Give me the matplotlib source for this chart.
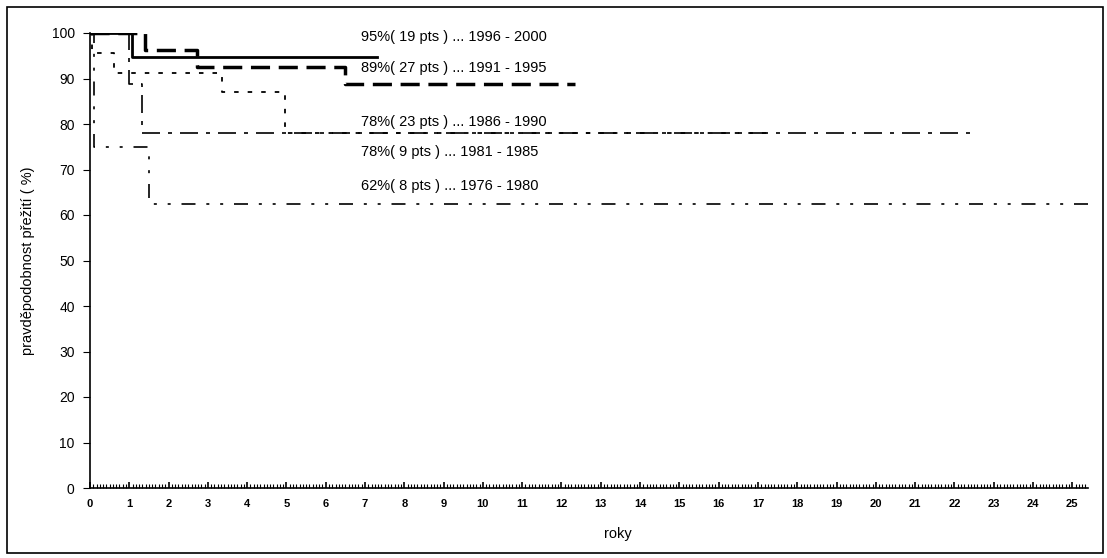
import matplotlib
matplotlib.use("Agg")
import matplotlib.pyplot as plt
import numpy as np
from matplotlib.patches import Rectangle
from matplotlib.ticker import MultipleLocator

plt.rcParams['font.family'] = ['Liberation Sans', 'DejaVu Sans']

# survival curves (years, % surviving), step after each time
t_9600 = [0, 1.07, 7.3]
s_9600 = [100, 94.7, 94.7]
t_9195 = [0, 1.39, 2.72, 6.5, 12.35]
s_9195 = [100, 96.3, 92.6, 88.9, 88.9]
t_8690 = [0, 0.05, 0.62, 3.35, 4.97, 17.4]
s_8690 = [100, 95.7, 91.3, 87.0, 78.0, 78.0]
t_8185 = [0, 1.0, 1.32, 22.4]
s_8185 = [100, 88.9, 78.0, 78.0]
t_7680 = [0, 0.1, 1.5, 25.4]
s_7680 = [100, 75.0, 62.5, 62.5]

labels = ["95%( 19 pts ) ... 1996 - 2000",
          "89%( 27 pts ) ... 1991 - 1995",
          "78%( 23 pts ) ... 1986 - 1990",
          "78%( 9 pts ) ... 1981 - 1985",
          "62%( 8 pts ) ... 1976 - 1980"]
label_y = [99.2, 92.3, 80.5, 73.9, 66.4]
label_x = 6.9

fig = plt.figure(figsize=(11.07, 5.58), dpi=100)
fig.patches.append(Rectangle((7 / 1107, 5 / 558), 1096 / 1107, 546 / 558,
                             transform=fig.transFigure, fill=False,
                             edgecolor='black', linewidth=1.2))
ax = fig.add_axes([90 / 1107, 70 / 558, 998 / 1107, 455 / 558])

ax.step(t_7680, s_7680, where='post', color='black', lw=1.2,
        linestyle=(0, (8.4, 6.5, 1.8, 6.5, 1.8, 6.5)))
ax.step(t_8185, s_8185, where='post', color='black', lw=1.2,
        linestyle=(0, (10.8, 4.8, 2.4, 4.8)))
ax.step(t_8690, s_8690, where='post', color='black', lw=1.3,
        linestyle=(0, (2.5, 5)))
ax.step(t_9195, s_9195, where='post', color='black', lw=2.5,
        linestyle=(0, (5.5, 2.5)))
ax.step(t_9600, s_9600, where='post', color='black', lw=2.0)

for txt, y in zip(labels, label_y):
    ax.text(label_x, y, txt, fontsize=10.5, va='center', ha='left')

ax.set_xlim(0, 25.4)
ax.set_ylim(0, 100)
ax.set_yticks(np.arange(0, 101, 10))
ax.set_xticks(np.arange(0, 26, 1))
ax.xaxis.set_minor_locator(MultipleLocator(1 / 12))
ax.tick_params(axis='y', direction='out', length=5, labelsize=10, pad=6)
ax.tick_params(axis='x', which='major', direction='in', length=4, width=1.2,
               labelsize=8, pad=8)
ax.tick_params(axis='x', which='minor', direction='in', length=3, width=0.8)
for lab in ax.get_xticklabels():
    lab.set_fontweight('bold')
for side in ['top', 'right']:
    ax.spines[side].set_visible(False)
ax.spines['left'].set_linewidth(1.2)
ax.spines['bottom'].set_linewidth(1.2)

ax.set_ylabel("pravděpodobnost přežití ( %)", fontsize=10.5)
ax.yaxis.set_label_coords(-0.055, 0.5)
ax.set_xlabel("roky", fontsize=10.5)
ax.xaxis.set_label_coords((618 - 90) / 998, -0.086)

fig.savefig("out.png", dpi=100)
